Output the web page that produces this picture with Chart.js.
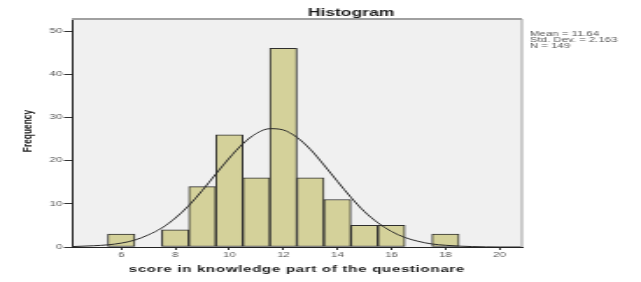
<!DOCTYPE html>
<html>
<head>
<meta charset="utf-8">
<script src="https://cdn.jsdelivr.net/npm/chart.js@4"></script>
<style>
  html, body { margin: 0; padding: 0; background: #fff; }
  #wrap { width: 641px; height: 282px; overflow: hidden; }
  /* the SPSS picture is stretched sideways, so draw narrow and widen it */
  #chart { display: block; transform: scale(1.7514, 1); transform-origin: 0 0; }
</style>
</head>
<body>
<div id="wrap"><canvas id="chart" width="366" height="282"></canvas></div>
<script>
// Histogram bins (score) and counts
const binCenters = [6, 7, 8, 9, 10, 11, 12, 13, 14, 15, 16, 17, 18];
const frequencies = [3, 0, 4, 14, 26, 16, 46, 16, 11, 5, 5, 0, 3];

// Normal curve
const curveX = [4.2, 5, 5.5, 6, 6.5, 7, 7.5, 8, 8.5, 9, 9.5, 10, 10.5, 11, 11.5, 12, 12.5, 13, 13.5, 14, 14.5, 15, 15.5, 16, 16.5, 17, 17.5, 18, 18.5, 19, 20, 20.8];
const curveY = [0.1, 0.3, 0.5, 0.9, 1.6, 2.8, 4.4, 6.7, 9.6, 13.1, 16.9, 20.6, 23.9, 26.3, 27.4, 27.1, 25.4, 22.6, 19.0, 15.2, 11.5, 8.2, 5.6, 3.6, 2.2, 1.3, 0.7, 0.4, 0.2, 0.1, 0.0, 0.0];

// Axis ticks
const xTicks = [6, 8, 10, 12, 14, 16, 18, 20];
const yTicks = [0, 10, 20, 30, 40, 50];

// Stats box text
const statLines = ['Mean = 11.64', 'Std. Dev. = 2.163', 'N = 149'];

const FONT = "'Liberation Sans', Arial, sans-serif";

// Plot background, frame and all the free text
const spssPlugin = {
    id: 'spss',
    beforeDraw(chart) {
        const { ctx, chartArea: a } = chart;
        ctx.save();
        ctx.fillStyle = '#f0f0f0';
        ctx.fillRect(a.left, a.top, a.right - a.left, a.bottom - a.top);
        ctx.restore();
    },
    afterDraw(chart) {
        const { ctx, chartArea: a } = chart;
        ctx.save();

        // top and right frame
        ctx.strokeStyle = '#a0a0a0';
        ctx.lineWidth = 2;
        ctx.beginPath();
        ctx.moveTo(a.left, a.top);
        ctx.lineTo(a.right, a.top);
        ctx.stroke();
        ctx.lineWidth = 1;
        ctx.beginPath();
        ctx.moveTo(a.right, a.top);
        ctx.lineTo(a.right, a.bottom);
        ctx.stroke();

        ctx.fillStyle = '#1a1a1a';
        ctx.textAlign = 'center';
        ctx.textBaseline = 'middle';

        // title
        ctx.font = 'bold 10px ' + FONT;
        ctx.fillText('Histogram', 200.4, 13);

        // x axis title, a little letter-spaced
        ctx.save();
        ctx.letterSpacing = '0.4px';
        ctx.font = 'bold 8.6px ' + FONT;
        ctx.fillText('score in knowledge part of the questionare', 169.5, 269.5);
        ctx.restore();

        // y axis title, squeezed like the original
        ctx.save();
        ctx.translate(16.6, 131);
        ctx.rotate(-Math.PI / 2);
        ctx.scale(1, 0.75);
        ctx.font = 'bold 8.4px ' + FONT;
        ctx.fillText('Frequency', 0, 0);
        ctx.restore();

        // stats
        ctx.fillStyle = '#555';
        ctx.textAlign = 'left';
        ctx.font = '6.5px ' + FONT;
        statLines.forEach((t, i) => ctx.fillText(t, 302.6, 34.3 + i * 6.2));

        ctx.restore();
    }
};

const ctx = document.getElementById('chart').getContext('2d');
new Chart(ctx, {
    type: 'bar',
    data: {
        datasets: [{
            type: 'line',
            data: curveX.map((x, i) => ({ x: x, y: curveY[i] })),
            borderColor: '#2a2a2a',
            borderWidth: 1,
            pointRadius: 0,
            fill: false,
            cubicInterpolationMode: 'monotone',
            order: 0
        }, {
            type: 'bar',
            data: binCenters.map((x, i) => ({ x: x, y: frequencies[i] || null })),
            backgroundColor: '#d4d19a',
            borderColor: '#2e2e2e',
            borderWidth: 1,
            borderSkipped: false,
            barPercentage: 1,
            categoryPercentage: 1,
            order: 1
        }]
    },
    options: {
        responsive: false,
        devicePixelRatio: 1,
        animation: false,
        layout: {
            padding: { top: 19, right: 68, bottom: 0, left: 0 }
        },
        plugins: {
            legend: { display: false },
            tooltip: { enabled: false }
        },
        scales: {
            x: {
                type: 'linear',
                min: 4.17,
                max: 20.83,
                offset: false,
                afterFit: function(scale) { scale.height = 35; },
                afterBuildTicks: function(scale) {
                    scale.ticks = xTicks.map(v => ({ value: v }));
                },
                grid: {
                    offset: false,
                    drawOnChartArea: false,
                    drawTicks: true,
                    tickLength: 3,
                    color: '#333'
                },
                border: { display: true, color: '#222', width: 1 },
                ticks: {
                    padding: 1,
                    color: '#555',
                    maxRotation: 0,
                    autoSkip: false,
                    font: { family: FONT, size: 6.5 }
                }
            },
            y: {
                type: 'linear',
                min: 0,
                max: 52.8,
                afterFit: function(scale) { scale.width = 41; },
                afterBuildTicks: function(scale) {
                    scale.ticks = yTicks.map(v => ({ value: v }));
                },
                grid: {
                    drawOnChartArea: false,
                    drawTicks: true,
                    tickLength: 4.5,
                    color: '#333'
                },
                border: { display: true, color: '#222', width: 1 },
                ticks: {
                    padding: 1,
                    color: '#555',
                    font: { family: FONT, size: 6.5 }
                }
            }
        }
    },
    plugins: [spssPlugin]
});
</script>
</body>
</html>
